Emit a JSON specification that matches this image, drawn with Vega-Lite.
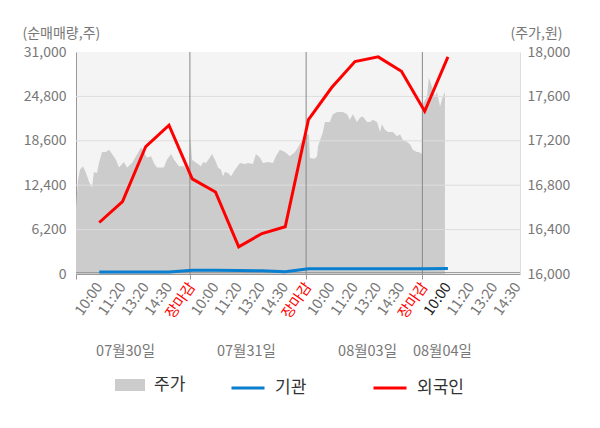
{
  "$schema": "https://vega.github.io/schema/vega-lite/v6.json",
  "width": 444,
  "height": 222,
  "autosize": {"type": "none"},
  "padding": {"left": 76, "top": 52, "right": 80, "bottom": 154},
  "background": "white",
  "config": {
    "font": "Noto Sans CJK KR",
    "view": {"fill": "#f4f4f4", "stroke": null}
  },
  "datasets": {
    "price": [
      {"t": 0.00, "p": 16600}, {"t": 0.09, "p": 16850}, {"t": 0.17, "p": 16940}, {"t": 0.30, "p": 16970},
      {"t": 0.43, "p": 16910}, {"t": 0.56, "p": 16830}, {"t": 0.69, "p": 16780}, {"t": 0.77, "p": 16920},
      {"t": 0.90, "p": 16910}, {"t": 0.99, "p": 17000}, {"t": 1.12, "p": 17100}, {"t": 1.29, "p": 17100},
      {"t": 1.42, "p": 17120}, {"t": 1.55, "p": 17080}, {"t": 1.72, "p": 17030}, {"t": 1.85, "p": 16960},
      {"t": 2.06, "p": 17010}, {"t": 2.19, "p": 16960}, {"t": 2.41, "p": 17000}, {"t": 2.58, "p": 17060},
      {"t": 2.80, "p": 17140}, {"t": 2.92, "p": 17100}, {"t": 3.05, "p": 17050}, {"t": 3.23, "p": 17060},
      {"t": 3.35, "p": 17000}, {"t": 3.48, "p": 16960}, {"t": 3.78, "p": 16960}, {"t": 3.91, "p": 17030},
      {"t": 4.09, "p": 17080}, {"t": 4.22, "p": 17030}, {"t": 4.43, "p": 16970}, {"t": 4.65, "p": 16970},
      {"t": 4.86, "p": 16910},
      {"t": 4.92, "p": 17240}, {"t": 4.99, "p": 17030}, {"t": 5.12, "p": 17010}, {"t": 5.25, "p": 16990},
      {"t": 5.38, "p": 16970}, {"t": 5.46, "p": 17010}, {"t": 5.59, "p": 17000}, {"t": 5.76, "p": 17050},
      {"t": 5.85, "p": 17080}, {"t": 5.98, "p": 17030}, {"t": 6.11, "p": 16960}, {"t": 6.24, "p": 16940},
      {"t": 6.32, "p": 16880}, {"t": 6.41, "p": 16920}, {"t": 6.54, "p": 16910}, {"t": 6.67, "p": 16880},
      {"t": 6.84, "p": 16940}, {"t": 7.05, "p": 17000}, {"t": 7.27, "p": 16990}, {"t": 7.40, "p": 17000},
      {"t": 7.61, "p": 16990}, {"t": 7.74, "p": 17080}, {"t": 7.91, "p": 17050}, {"t": 8.04, "p": 17000},
      {"t": 8.26, "p": 17010}, {"t": 8.47, "p": 17000}, {"t": 8.60, "p": 17060}, {"t": 8.77, "p": 17120},
      {"t": 8.99, "p": 17100}, {"t": 9.20, "p": 17060}, {"t": 9.42, "p": 17100}, {"t": 9.55, "p": 17140},
      {"t": 9.68, "p": 17190}, {"t": 9.85, "p": 17240}, {"t": 9.89, "p": 17280},
      {"t": 9.94, "p": 17260}, {"t": 10.02, "p": 17260}, {"t": 10.06, "p": 17050}, {"t": 10.15, "p": 17040},
      {"t": 10.28, "p": 17040}, {"t": 10.37, "p": 17060}, {"t": 10.41, "p": 17150}, {"t": 10.54, "p": 17230},
      {"t": 10.62, "p": 17280}, {"t": 10.71, "p": 17370}, {"t": 10.80, "p": 17370}, {"t": 10.92, "p": 17370},
      {"t": 11.05, "p": 17440}, {"t": 11.23, "p": 17460}, {"t": 11.48, "p": 17460}, {"t": 11.66, "p": 17440},
      {"t": 11.78, "p": 17390}, {"t": 11.91, "p": 17440}, {"t": 12.09, "p": 17370}, {"t": 12.22, "p": 17410},
      {"t": 12.34, "p": 17420}, {"t": 12.52, "p": 17370}, {"t": 12.65, "p": 17370}, {"t": 12.77, "p": 17390},
      {"t": 12.95, "p": 17370}, {"t": 13.08, "p": 17280}, {"t": 13.16, "p": 17350}, {"t": 13.29, "p": 17300},
      {"t": 13.42, "p": 17280}, {"t": 13.63, "p": 17280}, {"t": 13.81, "p": 17240}, {"t": 13.94, "p": 17260},
      {"t": 14.06, "p": 17210}, {"t": 14.24, "p": 17190}, {"t": 14.37, "p": 17170}, {"t": 14.49, "p": 17120},
      {"t": 14.67, "p": 17100}, {"t": 14.75, "p": 17100}, {"t": 14.88, "p": 17080},
      {"t": 14.92, "p": 17530}, {"t": 15.10, "p": 17600}, {"t": 15.18, "p": 17770}, {"t": 15.31, "p": 17690},
      {"t": 15.44, "p": 17600}, {"t": 15.53, "p": 17640}, {"t": 15.66, "p": 17510}, {"t": 15.78, "p": 17600},
      {"t": 15.87, "p": 17640}
    ],
    "flows": [
      {"k": 1, "s": "기관", "v": 280}, {"k": 2, "s": "기관", "v": 280}, {"k": 3, "s": "기관", "v": 280},
      {"k": 4, "s": "기관", "v": 280}, {"k": 5, "s": "기관", "v": 520}, {"k": 6, "s": "기관", "v": 520},
      {"k": 7, "s": "기관", "v": 500}, {"k": 8, "s": "기관", "v": 450}, {"k": 9, "s": "기관", "v": 300},
      {"k": 10, "s": "기관", "v": 740}, {"k": 11, "s": "기관", "v": 740}, {"k": 12, "s": "기관", "v": 740},
      {"k": 13, "s": "기관", "v": 740}, {"k": 14, "s": "기관", "v": 740}, {"k": 15, "s": "기관", "v": 740},
      {"k": 16, "s": "기관", "v": 760},
      {"k": 1, "s": "외국인", "v": 7190}, {"k": 2, "s": "외국인", "v": 10120}, {"k": 3, "s": "외국인", "v": 17800},
      {"k": 4, "s": "외국인", "v": 20770}, {"k": 5, "s": "외국인", "v": 13290}, {"k": 6, "s": "외국인", "v": 11450},
      {"k": 7, "s": "외국인", "v": 3800}, {"k": 8, "s": "외국인", "v": 5650}, {"k": 9, "s": "외국인", "v": 6590},
      {"k": 10, "s": "외국인", "v": 21570}, {"k": 11, "s": "외국인", "v": 26040}, {"k": 12, "s": "외국인", "v": 29670},
      {"k": 13, "s": "외국인", "v": 30320}, {"k": 14, "s": "외국인", "v": 28310}, {"k": 15, "s": "외국인", "v": 22730},
      {"k": 16, "s": "외국인", "v": 30320}
    ],
    "grid": [{"g": 6200}, {"g": 12400}, {"g": 18600}, {"g": 24800}],
    "days": [{"d": 4.9}, {"d": 9.9}, {"d": 14.9}]
  },
  "layer": [
    {
      "data": {"name": "price"},
      "mark": {"type": "area", "clip": true},
      "encoding": {
        "x": {
          "field": "t", "type": "quantitative",
          "scale": {"domain": [0, 19.1], "nice": false, "zero": false},
          "axis": {
            "orient": "bottom",
            "values": [1, 2, 3, 4, 5, 6, 7, 8, 9, 10, 11, 12, 13, 14, 15, 16, 17, 18, 19],
            "labelExpr": "['10:00','11:20','13:20','14:30','장마감'][(datum.value - 1) % 5]",
            "labelAngle": -55,
            "labelAlign": "right",
            "labelBaseline": "middle",
            "labelPadding": 10,
            "labelFontSize": 14.5,
            "labelOverlap": false,
            "labelColor": {
              "condition": [
                {"test": "datum.value % 5 == 0", "value": "#ff0000"},
                {"test": "datum.value == 16", "value": "#222222"}
              ],
              "value": "#777777"
            },
            "ticks": false,
            "grid": false,
            "domainColor": "#999999",
            "title": null
          }
        },
        "y": {
          "field": "p", "type": "quantitative",
          "scale": {"domain": [16000, 18000], "nice": false, "zero": false},
          "axis": {
            "orient": "right",
            "values": [16000, 16400, 16800, 17200, 17600, 18000],
            "format": ",.0f",
            "grid": false,
            "ticks": false,
            "domainColor": "#dddddd",
            "labelColor": "#777777",
            "labelFontSize": 14,
            "labelPadding": 7,
            "title": "(주가,원)",
            "titleAngle": 0,
            "titleX": -10,
            "titleY": -19,
            "titleAlign": "left",
            "titleBaseline": "middle",
            "titleColor": "#777777",
            "titleFontSize": 14,
            "titleFontWeight": "normal"
          }
        },
        "y2": {"datum": 16000},
        "fill": {
          "datum": "주가", "type": "nominal",
          "scale": {"range": ["#cccccc"]},
          "legend": {
            "orient": "none",
            "legendX": 39,
            "legendY": 318,
            "title": null,
            "symbolType": "M-1,-0.4H1V0.4H-1Z",
            "symbolSize": 900,
            "symbolStrokeWidth": 0,
            "labelFontSize": 17,
            "labelColor": "#333333",
            "labelOffset": 9
          }
        }
      }
    },
    {
      "layer": [
        {
          "data": {"name": "grid"},
          "mark": {"type": "rule", "color": "#dddddd", "strokeWidth": 1},
          "encoding": {
            "y": {
              "field": "g", "type": "quantitative",
              "scale": {"domain": [0, 31000], "nice": false, "zero": false},
              "axis": {
                "orient": "left",
                "values": [0, 6200, 12400, 18600, 24800, 31000],
                "format": ",.0f",
                "grid": false,
                "ticks": false,
                "domainColor": "#999999",
                "labelColor": "#777777",
                "labelFontSize": 14,
                "labelPadding": 10,
                "title": "(순매매량,주)",
                "titleAngle": 0,
                "titleX": -54,
                "titleY": -19,
                "titleAlign": "left",
                "titleBaseline": "middle",
                "titleColor": "#777777",
                "titleFontSize": 14,
                "titleFontWeight": "normal"
              }
            }
          }
        },
        {
          "data": {"values": [{"z": 200}]},
          "mark": {"type": "rule", "color": "#999999", "strokeWidth": 1},
          "encoding": {
            "y": {"field": "z", "type": "quantitative", "scale": {"domain": [0, 31000], "nice": false, "zero": false}}
          }
        },
        {
          "data": {"name": "days"},
          "mark": {"type": "rule", "color": "#888888", "strokeWidth": 1},
          "encoding": {
            "x": {
              "field": "d", "type": "quantitative",
              "scale": {"domain": [0, 19.1], "nice": false, "zero": false},
              "axis": {
                "orient": "bottom",
                "values": [0, 2.11, 4.9, 7.31, 9.9, 12.52, 14.9, 15.74],
                "labelExpr": "datum.value == 2.11 ? '07월30일' : datum.value == 7.31 ? '07월31일' : datum.value == 12.52 ? '08월03일' : datum.value == 15.74 ? '08월04일' : ''",
                "labelAngle": 0,
                "labelAlign": "center",
                "labelBaseline": "middle",
                "labelPadding": 72,
                "labelFontSize": 14.5,
                "labelColor": "#777777",
                "labelOverlap": false,
                "tickSize": 5,
                "tickColor": {
                  "condition": {"test": "indexof([0, 4.9, 9.9, 14.9], datum.value) >= 0", "value": "#999999"},
                  "value": "transparent"
                },
                "domain": false,
                "grid": false,
                "title": null
              }
            }
          }
        },
        {
          "data": {"name": "flows"},
          "mark": {"type": "line", "strokeWidth": 3, "clip": true},
          "encoding": {
            "x": {"field": "k", "type": "quantitative", "scale": {"domain": [0, 19.1], "nice": false, "zero": false}},
            "y": {"field": "v", "type": "quantitative", "scale": {"domain": [0, 31000], "nice": false, "zero": false}},
            "stroke": {
              "field": "s", "type": "nominal",
              "scale": {"domain": ["기관", "외국인"], "range": ["#0a7fd0", "#ff0000"]},
              "legend": {
                "orient": "none",
                "legendX": 154,
                "legendY": 318,
                "direction": "horizontal",
                "title": null,
                "symbolType": "stroke",
                "symbolSize": 1089,
                "symbolStrokeWidth": 3,
                "labelFontSize": 17,
                "labelColor": "#333333",
                "labelOffset": 9,
                "columnPadding": 60
              }
            }
          }
        }
      ]
    }
  ],
  "resolve": {
    "scale": {"y": "independent"},
    "axis": {"x": "independent", "y": "independent"}
  }
}
